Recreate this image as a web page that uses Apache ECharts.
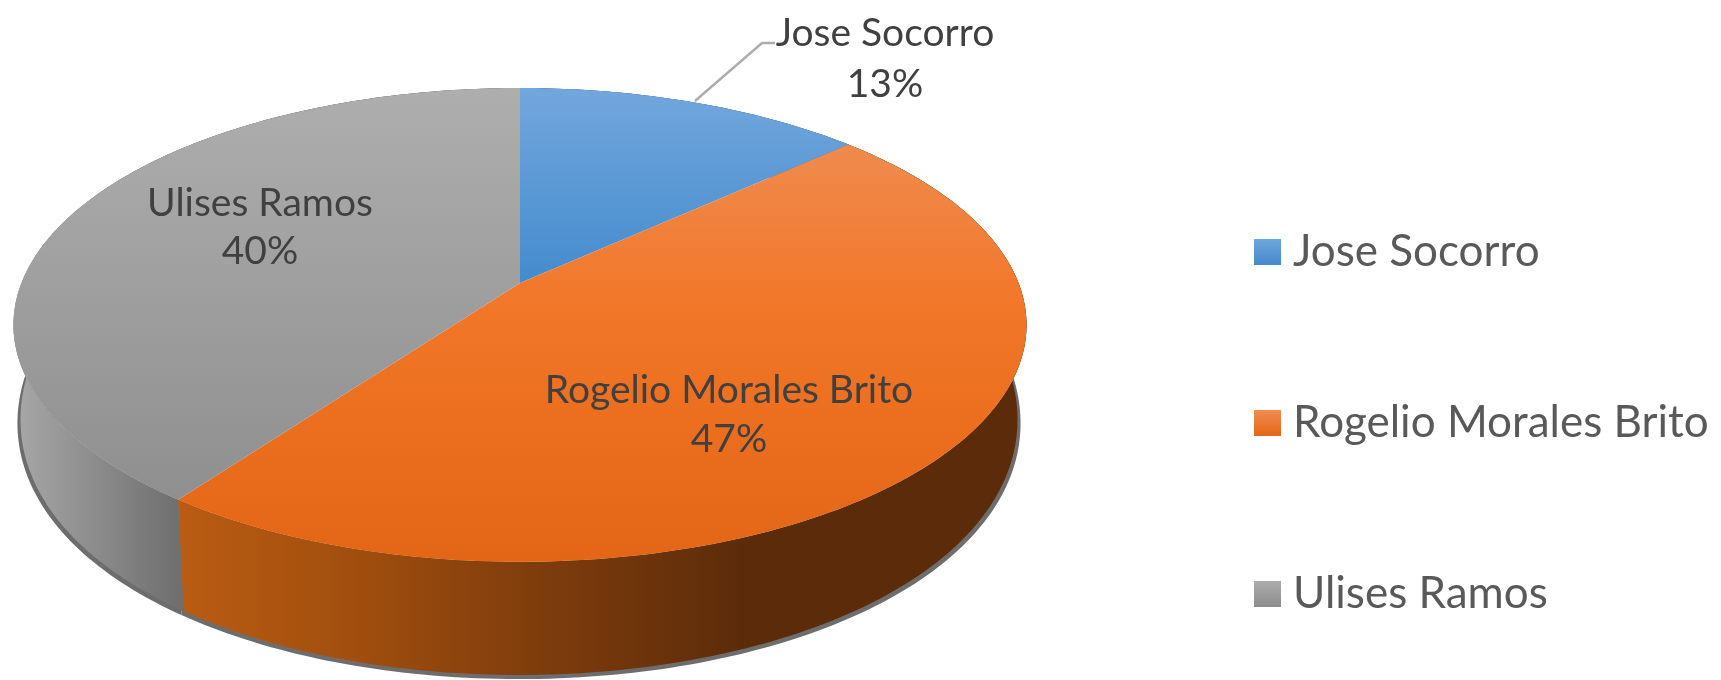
<!DOCTYPE html>
<html><head><meta charset="utf-8">
<style>html,body{margin:0;padding:0;background:#fff}#c{width:1721px;height:680px}</style>
<script src="https://cdn.jsdelivr.net/npm/echarts@6/dist/echarts.min.js"></script>
</head><body><div id="c"></div>
<script>
const categories = ['Jose Socorro', 'Rogelio Morales Brito', 'Ulises Ramos'];
const values = [13.2, 46.8, 40];

const total = values.reduce((a, b) => a + b, 0);
const FONT = 'Lato, "Open Sans", sans-serif';
// perspective of the pie's three outlines: top face, foot of the wall, drop shadow
const planes = {
  top:    {cx: 520, A: 498.5, kx: 0.177, C: 283,   B: 179.4, ky: 0.177},
  bottom: {cx: 519, A: 491,   kx: 0.173, C: 372.6, B: 221.4, ky: 0.12},
  shadow: {cx: 519, A: 494,   kx: 0.173, C: 376.2, B: 221.4, ky: 0.12}
};
function pt(angle, plane) {
  const m = planes[plane], u = Math.sin(angle), v = Math.cos(angle);
  return [m.cx + m.A * u / (1 + m.kx * v), (m.C - m.B * v) / (1 + m.ky * v)];
}
function arc(a0, a1, plane) {
  const n = Math.max(2, Math.ceil((a1 - a0) / (Math.PI / 180)));
  const out = [];
  for (let i = 0; i <= n; i++) out.push(pt(a0 + (a1 - a0) * i / n, plane));
  return out;
}
function grad(x, y, x2, y2, stops) {
  return {type: 'linear', x, y, x2, y2, global: true,
    colorStops: stops.map(s => ({offset: s[0], color: s[1]}))};
}
const topFills = [
  grad(0, 88, 0, 283, [[0, '#72a7dd'], [1, '#448bcd']]),
  grad(0, 144, 0, 562, [[0, '#ef8b4e'], [0.4, '#f27627'], [1, '#e26615']]),
  grad(0, 88, 0, 500, [[0, '#aeaeae'], [1, '#8f8f8f']])
];
const wallFills = [
  '#3f6f9c',
  grad(178, 0, 1020, 0, [[0, '#ba5c13'], [0.2, '#a24f0e'], [0.42, '#803d0c'], [0.68, '#5b2b0a'], [1, '#5c2c0a']]),
  grad(20, 0, 178, 0, [[0, '#a6a6a6'], [1, '#6f6f6f']])
];
const legendFills = [
  {type: 'linear', x: 0, y: 0, x2: 0, y2: 1, colorStops: [{offset: 0, color: '#6fa6dc'}, {offset: 1, color: '#4489cb'}]},
  {type: 'linear', x: 0, y: 0, x2: 0, y2: 1, colorStops: [{offset: 0, color: '#f08c50'}, {offset: 1, color: '#e46715'}]},
  {type: 'linear', x: 0, y: 0, x2: 0, y2: 1, colorStops: [{offset: 0, color: '#adadad'}, {offset: 1, color: '#8c8c8c'}]}
];
const labelLayout = [
  {x: 885, y1: 33, y2: 84, leader: [[695, 101], [762, 43], [775, 43]]},
  {x: 729, y1: 390, y2: 439},
  {x: 260, y1: 203, y2: 251}
];
function text(str, x, y) {
  return {type: 'text', z2: 10, style: {text: str, x, y, fill: '#404040', fontFamily: FONT, fontSize: 39,
    align: 'center', verticalAlign: 'middle'}};
}
function renderer(idx) {
  return function (params, api) {
    const before = values.slice(0, idx).reduce((a, b) => a + b, 0);
    const a0 = before / total * 2 * Math.PI;
    const a1 = a0 + api.value(0) / total * 2 * Math.PI;
    const topArc = arc(a0, a1, 'top');
    const botArc = arc(a0, a1, 'bottom').reverse();
    const shArc = arc(a0, a1, 'shadow').reverse();
    const L = labelLayout[idx];
    const pct = Math.round(api.value(0) / total * 100) + '%';
    const children = [
      {type: 'polygon', z2: 0, shape: {points: topArc.concat(shArc)}, style: {fill: '#6d6d6d'}, silent: true},
      {type: 'polygon', z2: 1, shape: {points: topArc.concat(botArc)}, style: {fill: wallFills[idx]}, silent: true},
      {type: 'polygon', z2: 5, shape: {points: [[planes.top.cx, planes.top.C]].concat(topArc)}, style: {fill: topFills[idx]}, silent: true},
      text(categories[idx], L.x, L.y1),
      text(pct, L.x, L.y2)
    ];
    if (L.leader) children.push({type: 'polyline', z2: 6, shape: {points: L.leader},
      style: {stroke: '#adadad', lineWidth: 2.5, fill: null}, silent: true});
    return {type: 'group', children};
  };
}
const chart = echarts.init(document.getElementById('c'), null, {renderer: 'canvas'});
chart.setOption({
  animation: false,
  backgroundColor: '#ffffff',
  legend: {
    orient: 'vertical', left: 1249, top: 225, itemWidth: 27, itemHeight: 26, itemGap: 127, icon: 'rect',
    selectedMode: false,
    textStyle: {color: '#595959', fontFamily: FONT, fontSize: 44, padding: [0, 0, 0, 7]},
    data: categories
  },
  series: categories.map((name, i) => ({
    type: 'custom', name, coordinateSystem: 'none', silent: true,
    itemStyle: {color: legendFills[i]},
    data: [[values[i]]],
    renderItem: renderer(i)
  }))
});
</script></body></html>
